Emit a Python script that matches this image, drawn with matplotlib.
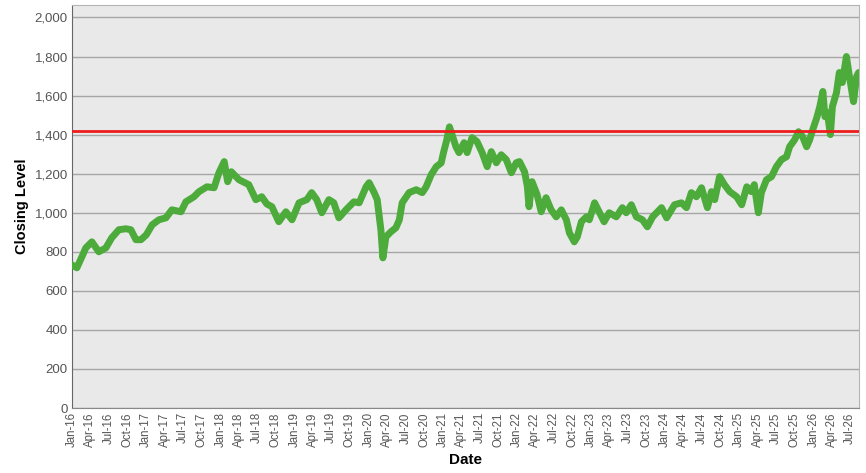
import matplotlib
matplotlib.use("Agg")
import matplotlib.pyplot as plt
import matplotlib.dates as mdates
import numpy as np
import pandas as pd

dates = [
    "2016-01-01", "2016-01-25", "2016-02-19", "2016-03-09", "2016-04-08", "2016-05-12",
    "2016-06-16", "2016-07-15", "2016-08-19", "2016-09-23", "2016-10-17", "2016-11-11",
    "2016-12-06", "2017-01-01", "2017-01-30", "2017-03-04", "2017-04-08", "2017-05-07",
    "2017-06-21", "2017-07-15", "2017-08-24", "2017-09-18", "2017-10-27", "2017-12-01",
    "2017-12-25", "2018-01-20", "2018-02-06", "2018-02-24", "2018-04-03", "2018-05-21",
    "2018-06-25", "2018-07-24", "2018-08-18", "2018-09-12", "2018-10-16", "2018-11-20",
    "2018-12-20", "2019-01-24", "2019-03-03", "2019-03-27", "2019-04-21", "2019-05-16",
    "2019-06-20", "2019-07-14", "2019-08-08", "2019-09-12", "2019-10-21", "2019-11-16",
    "2019-12-20", "2020-01-04", "2020-01-29", "2020-02-13", "2020-03-02", "2020-03-12",
    "2020-03-27", "2020-04-21", "2020-05-15", "2020-06-01", "2020-06-15", "2020-07-19",
    "2020-08-23", "2020-09-22", "2020-10-11", "2020-11-05", "2020-11-30", "2020-12-24",
    "2021-01-05", "2021-01-20", "2021-02-03", "2021-03-07", "2021-03-22", "2021-04-16",
    "2021-05-01", "2021-05-25", "2021-06-19", "2021-07-14", "2021-08-08", "2021-08-28",
    "2021-09-22", "2021-10-16", "2021-11-10", "2021-12-05", "2021-12-29", "2022-01-14",
    "2022-02-08", "2022-02-22", "2022-03-02", "2022-03-17", "2022-04-11", "2022-05-01",
    "2022-05-25", "2022-06-19", "2022-07-14", "2022-08-08", "2022-09-02", "2022-09-17",
    "2022-10-11", "2022-10-26", "2022-11-15", "2022-12-10", "2022-12-24", "2023-01-19",
    "2023-02-13", "2023-03-07", "2023-04-01", "2023-05-06", "2023-06-05", "2023-06-24",
    "2023-07-19", "2023-08-13", "2023-09-12", "2023-10-06", "2023-11-01", "2023-12-15",
    "2024-01-09", "2024-02-17", "2024-03-22", "2024-04-16", "2024-05-10", "2024-06-04",
    "2024-06-29", "2024-07-28", "2024-08-17", "2024-09-02", "2024-09-26", "2024-10-20",
    "2024-11-15", "2024-12-19", "2025-01-13", "2025-02-07", "2025-03-02", "2025-03-16",
    "2025-04-05", "2025-04-20", "2025-05-15", "2025-06-09", "2025-07-03", "2025-07-28",
    "2025-08-22", "2025-09-06", "2025-10-01", "2025-10-20", "2025-11-09", "2025-11-29",
    "2025-12-14", "2025-12-29", "2026-01-18", "2026-02-02", "2026-02-17", "2026-02-27",
    "2026-03-11", "2026-03-26", "2026-04-05", "2026-04-25", "2026-05-09", "2026-05-24",
    "2026-06-13", "2026-06-28", "2026-07-18", "2026-08-02", "2026-08-12",
]
closing = [
    733, 718, 775, 820, 851, 800,
    820, 872, 913, 918, 913, 862,
    862, 887, 938, 964, 974, 1015,
    1005, 1056, 1082, 1108, 1133, 1128,
    1205, 1262, 1159, 1210, 1169, 1144,
    1067, 1082, 1045, 1031, 954, 1005,
    964, 1051, 1067, 1103, 1067, 1000,
    1067, 1051, 974, 1015, 1056, 1051,
    1133, 1154, 1103, 1067, 913, 769,
    877, 903, 923, 964, 1051, 1103,
    1118, 1103, 1133, 1195, 1236, 1255,
    1310, 1370, 1440, 1338, 1308, 1359,
    1308, 1385, 1364, 1308, 1236, 1313,
    1256, 1297, 1272, 1205, 1256, 1262,
    1210, 1133, 1031, 1159, 1092, 1005,
    1077, 1015, 979, 1015, 964, 897,
    851, 877, 954, 979, 964, 1051,
    1000, 954, 1000, 979, 1026, 1000,
    1041, 979, 964, 928, 979, 1026,
    974, 1041, 1051, 1026, 1103, 1082,
    1128, 1026, 1108, 1067, 1185, 1144,
    1108, 1082, 1041, 1133, 1108, 1144,
    1000, 1103, 1169, 1185, 1236, 1272,
    1287, 1338, 1374, 1415, 1390, 1338,
    1374, 1425, 1487, 1544, 1621, 1492,
    1513, 1400, 1544, 1615, 1718, 1667,
    1800, 1697, 1569, 1697, 1718,
]
reference_level = 1417
y_ticks = [0, 200, 400, 600, 800, 1000, 1200, 1400, 1600, 1800, 2000]

x = pd.to_datetime(dates)

plt.rcParams['font.family'] = ['Liberation Sans', 'DejaVu Sans']

fig = plt.figure(figsize=(8.66, 4.73), dpi=100)
ax = fig.add_axes([72/866, 1-408/473, (859-72)/866, (408-5)/473])
ax.set_facecolor('#e9e9e9')

ax.set_ylim(0, 2064)
ax.set_xlim(pd.Timestamp("2016-01-01"), pd.Timestamp("2026-08-14"))
ax.set_yticks(y_ticks)
ax.yaxis.set_major_formatter(matplotlib.ticker.FuncFormatter(lambda v, p: f"{int(v):,}"))
ax.grid(axis='y', color='#a6a6a6', linewidth=1.0)
ax.set_axisbelow(True)

ax.plot(x, closing, color='#4cab3b', linewidth=5.0, solid_joinstyle='round',
        solid_capstyle='round', zorder=3)
ax.axhline(reference_level, color='#ee1c1c', linewidth=2.0, zorder=4)

ax.xaxis.set_major_locator(mdates.MonthLocator(bymonth=[1, 4, 7, 10]))
ax.xaxis.set_major_formatter(mdates.DateFormatter('%b-%y'))
ax.tick_params(axis='x', labelrotation=90, labelsize=8.3, colors='#555555', length=0, pad=3)
ax.tick_params(axis='y', labelsize=9.5, colors='#555555', length=0, pad=3)

for s in ['top', 'right']:
    ax.spines[s].set_color('#b5b5b5')
ax.spines['left'].set_color('#666666')
ax.spines['bottom'].set_color('#888888')

ax.set_xlabel('Date', fontsize=11, fontweight='bold', color='black', labelpad=4)
ax.set_ylabel('Closing Level', fontsize=10.5, fontweight='bold', color='black', labelpad=4)

fig.savefig('out.png', dpi=100)
